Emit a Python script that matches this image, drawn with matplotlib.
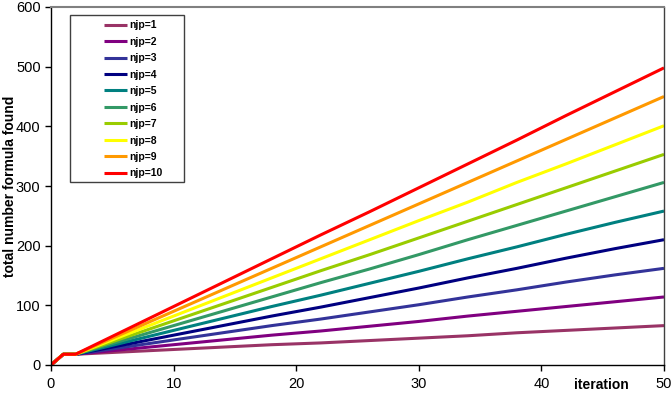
import matplotlib
matplotlib.use("Agg")
import matplotlib.pyplot as plt
from matplotlib.patches import Rectangle

plt.rcParams['font.family'] = ['Liberation Sans', 'DejaVu Sans']

iterations = [0, 1, 2, 6, 10, 14, 18, 22, 26, 30, 34, 38, 42, 46, 50]
start = [0, 18, 18]
series = {
    "njp=1":  start + [22, 26, 30, 34, 37, 41, 45, 49, 54, 58, 62, 66],
    "njp=2":  start + [26, 34, 42, 50, 57, 65, 73, 82, 90, 98, 106, 114],
    "njp=3":  start + [30, 42, 54, 66, 77, 89, 101, 114, 126, 139, 151, 162],
    "njp=4":  start + [34, 50, 66, 82, 97, 113, 129, 146, 162, 179, 195, 210],
    "njp=5":  start + [38, 58, 78, 98, 117, 137, 157, 178, 198, 219, 239, 258],
    "njp=6":  start + [42, 66, 90, 114, 138, 161, 185, 210, 234, 258, 282, 306],
    "njp=7":  start + [46, 74, 102, 130, 158, 185, 213, 241, 269, 297, 325, 353],
    "njp=8":  start + [50, 82, 114, 146, 178, 210, 242, 273, 306, 337, 369, 401],
    "njp=9":  start + [54, 90, 126, 162, 198, 234, 270, 306, 342, 378, 414, 450],
    "njp=10": start + [58, 98, 138, 178, 218, 257, 297, 337, 377, 418, 458, 498],
}
colors = ["#993366", "#800080", "#333399", "#000080", "#008080",
          "#339966", "#99CC00", "#FFFF00", "#FF9900", "#FF0000"]
xticks = [0, 10, 20, 30, 40, 50]
yticks = [0, 100, 200, 300, 400, 500, 600]

fig = plt.figure(figsize=(6.72, 4.04), dpi=100)
ax = fig.add_axes([51/672, 1-365/404, (664-51)/672, (365-7)/404])

for (name, vals), c in zip(series.items(), colors):
    ax.plot(iterations, vals, color=c, lw=2.2, label=name, solid_capstyle='butt')

ax.set_xlim(0, 50)
ax.set_ylim(0, 600)
ax.set_xticks(xticks)
ax.set_yticks(yticks)
ax.tick_params(direction='out', length=4, width=1, labelsize=10.5, colors='black')
ax.tick_params(axis='x', pad=5)
for s in ['left', 'bottom']:
    ax.spines[s].set_color('black')
    ax.spines[s].set_linewidth(1)
ax.spines['top'].set_color('#808080')
ax.spines['top'].set_linewidth(1.5)
ax.spines['right'].set_color('#404040')
ax.spines['right'].set_linewidth(1)

fig.text(10/672, 1-186/404, "total number formula found", fontsize=10,
         fontweight='bold', rotation=90, ha='center', va='center')
fig.text(601/672, 1-385/404, "iteration", fontsize=10, fontweight='bold',
         ha='center', va='center')

leg = ax.legend(loc='upper left', bbox_to_anchor=(97/672, 1-13/404),
                bbox_transform=fig.transFigure, frameon=False,
                prop={'size': 7.5, 'weight': 'bold'}, handlelength=2.2,
                handletextpad=0.15, labelspacing=0.62, borderpad=0.2)
fig.patches.append(Rectangle((70/672, 1-182/404), 114/672, 167/404,
                             transform=fig.transFigure, fill=False,
                             edgecolor='#404040', lw=1))

fig.savefig("out.png", dpi=100)
